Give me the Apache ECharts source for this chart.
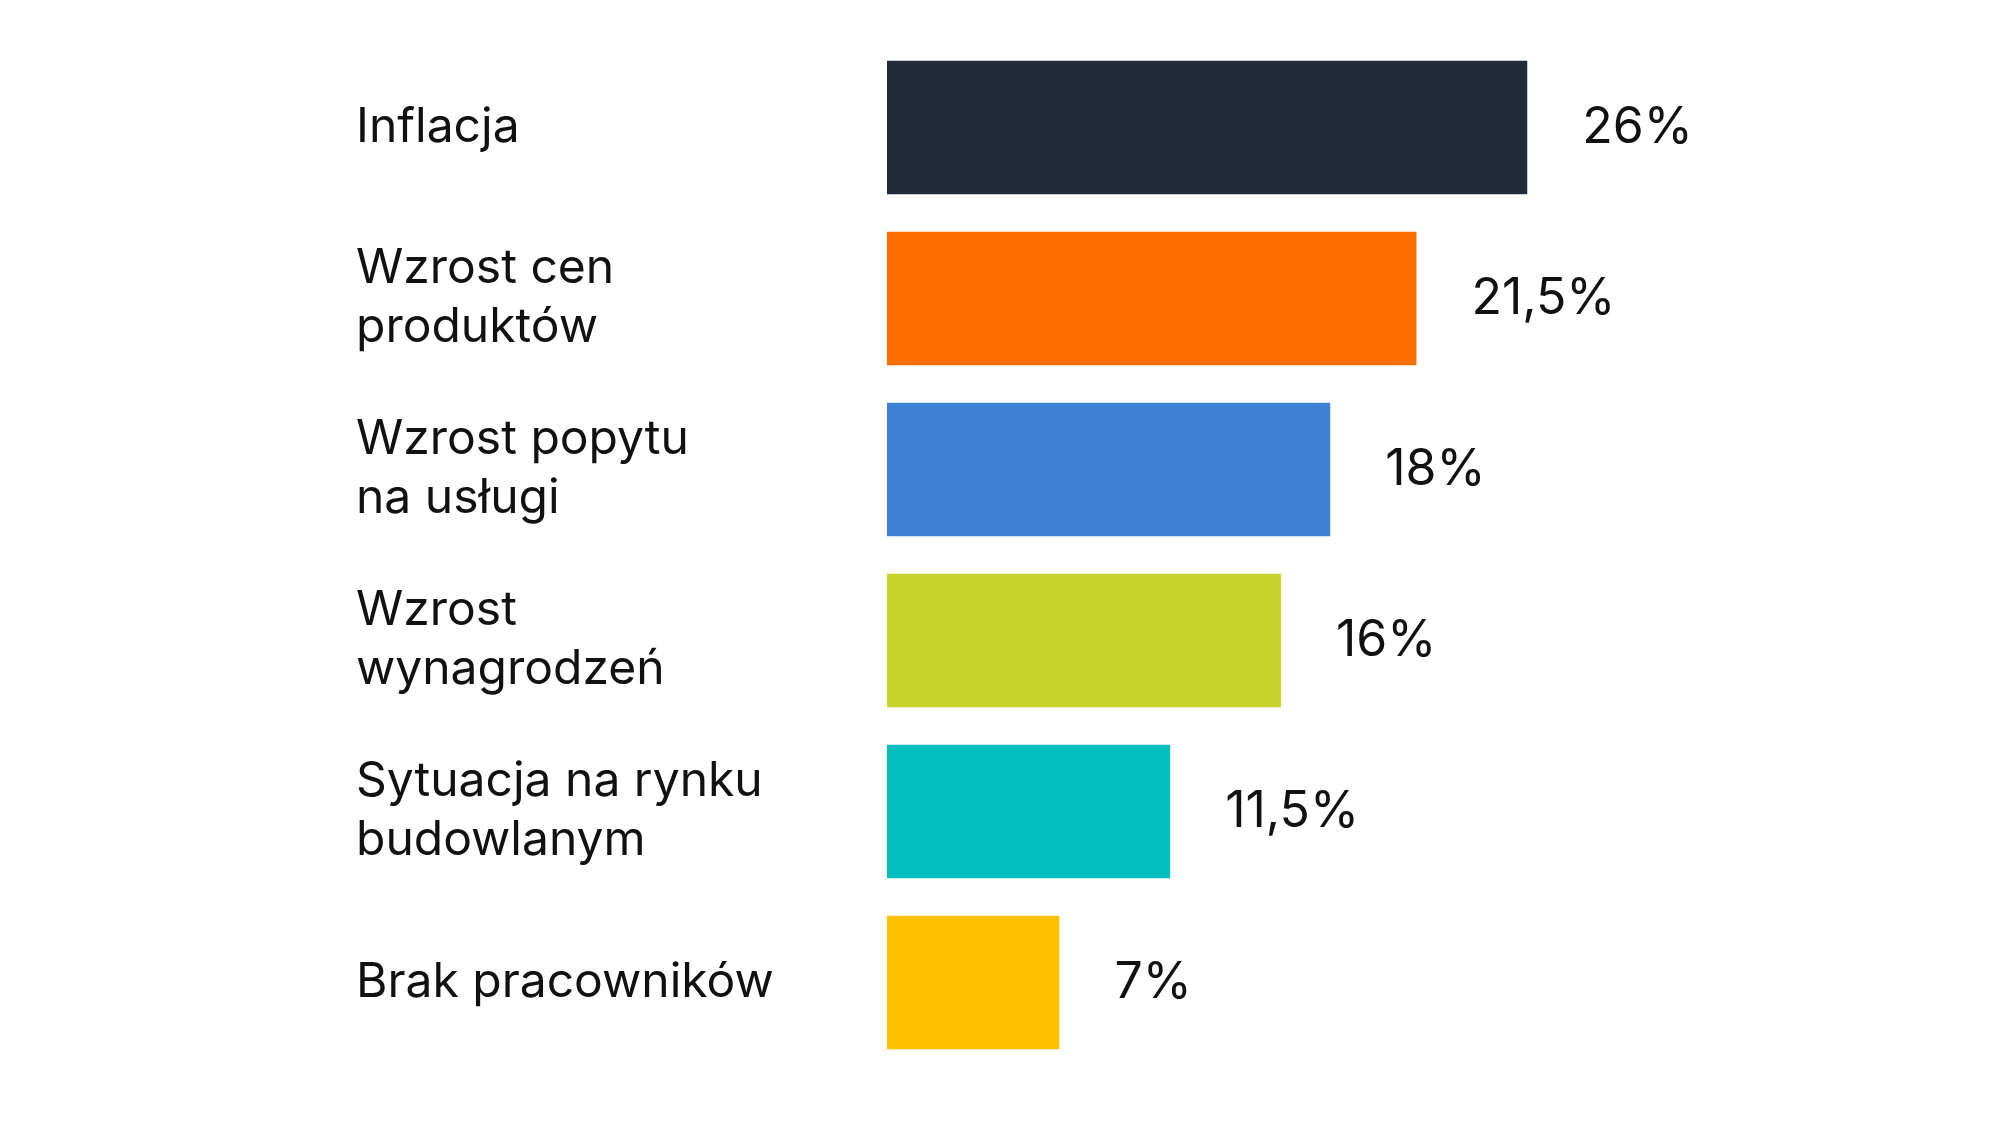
<!DOCTYPE html>
<html>
<head>
<meta charset="utf-8">
<script src="https://cdn.jsdelivr.net/npm/echarts@6/dist/echarts.min.js"></script>
<style>
  html, body { margin: 0; padding: 0; background: #fff; }
  #main { width: 2000px; height: 1125px; }
</style>
</head>
<body>
<div id="main"></div>
<script>
// categories, top to bottom
var categories = [
  'Inflacja',
  'Wzrost cen\nproduktów',
  'Wzrost popytu\nna usługi',
  'Wzrost\nwynagrodzeń',
  'Sytuacja na rynku\nbudowlanym',
  'Brak pracowników'
];
var values = [26, 21.5, 18, 16, 11.5, 7];
var colors = ['#212a38', '#ff6e00', '#3e82d4', '#c6d42a', '#00bfbe', '#fdc300'];

var dataList = [];
for (var i = 0; i < values.length; i++) {
  dataList.push({ value: values[i], itemStyle: { color: colors[i] } });
}

var myChart = echarts.init(document.getElementById('main'));
var option = {
  backgroundColor: '#fff',
  animation: false,
  grid: { left: 887, right: 128, top: 42, bottom: 57, containLabel: false },
  xAxis: {
    type: 'value',
    min: 0,
    max: 40,
    show: false
  },
  yAxis: {
    type: 'category',
    inverse: true,
    data: categories,
    axisLine: { show: false },
    axisTick: { show: false },
    axisLabel: {
      align: 'left',
      margin: 531,
      fontFamily: 'Inter',
      fontSize: 48,
      lineHeight: 59,
      color: '#111'
    }
  },
  series: [{
    type: 'bar',
    data: dataList,
    barCategoryGap: '22%',
    label: {
      show: true,
      position: 'right',
      distance: 55,
      fontFamily: 'Inter',
      fontSize: 50,
      color: '#111',
      formatter: function (p) {
        return String(p.value).replace('.', ',') + '%';
      }
    }
  }]
};
myChart.setOption(option);
</script>
</body>
</html>
